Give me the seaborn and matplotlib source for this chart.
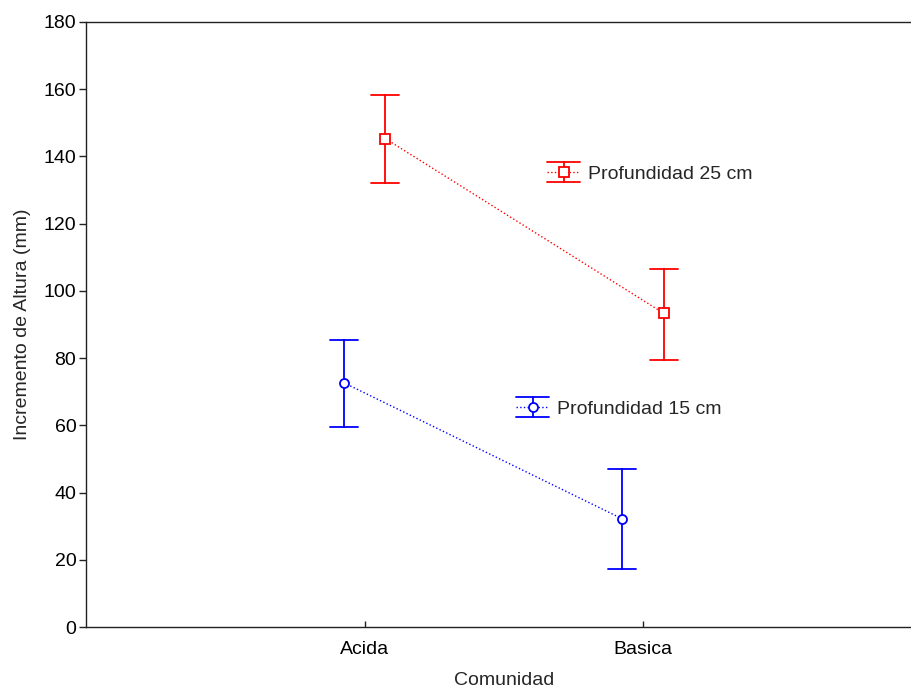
import numpy as np
import pandas as pd
import matplotlib
matplotlib.use("Agg")
import matplotlib.pyplot as plt
import seaborn as sns
from matplotlib.lines import Line2D
from matplotlib.legend_handler import HandlerBase

# ---- data ----
comunidades = ["Acida", "Basica"]
profundidades = ["Profundidad 15 cm", "Profundidad 25 cm"]
media_15 = [72.7, 32.2]
inf_15 = [59.6, 17.3]
sup_15 = [85.4, 47.1]
media_25 = [145.3, 93.3]
inf_25 = [132.2, 79.4]
sup_25 = [158.3, 106.4]
colores = ["#0000FF", "#FF0000"]
marcadores = ["o", "s"]
yticks = list(range(0, 181, 20))

rows = []
for prof, med, lo, hi in [(profundidades[0], media_15, inf_15, sup_15),
                          (profundidades[1], media_25, inf_25, sup_25)]:
    for com, m, l, h in zip(comunidades, med, lo, hi):
        for v in (l, m, h):
            rows.append({"Comunidad": com, "Profundidad": prof, "Incremento": v})
df = pd.DataFrame(rows)

sns.set_theme(style="ticks")
plt.rcParams["font.family"] = ["Liberation Sans", "DejaVu Sans"]
FS = 14

fig = plt.figure(figsize=(9.11, 6.89), dpi=100)
ax = fig.add_axes([86 / 911, 1 - 627 / 689, 835.5 / 911, 605 / 689])

sns.pointplot(data=df, x="Comunidad", y="Incremento", hue="Profundidad",
              order=comunidades, hue_order=profundidades, palette=colores,
              estimator="median", errorbar=lambda v: (v.min(), v.max()),
              markers=marcadores, linestyles=[":", ":"], dodge=0.15,
              capsize=0.1, err_kws={"linewidth": 1.3},
              linewidth=1.0, markersize=6.5, markerfacecolor="white",
              markeredgewidth=1.3, legend=False, ax=ax)

for ln in ax.lines:
    if ln.get_marker() not in (None, "None", "", " "):
        ln.set_zorder(4)

ax.set_xlim(-1, 2)
ax.set_ylim(0, 180)
ax.set_yticks(yticks)
ax.spines["right"].set_visible(False)
for s in ("left", "bottom", "top"):
    ax.spines[s].set_color("#222222")
    ax.spines[s].set_linewidth(1.0)
ax.tick_params(axis="y", direction="out", length=5, width=1, labelsize=FS, pad=2, colors="#222222", labelcolor="black")
ax.tick_params(axis="x", direction="in", length=4, width=1, labelsize=FS, pad=10, colors="#222222", labelcolor="black")
ax.set_xlabel("Comunidad", fontsize=FS, labelpad=10)
ax.set_ylabel("Incremento de Altura (mm)", fontsize=FS, labelpad=9)


class ErrHandler(HandlerBase):
    def create_artists(self, legend, orig_handle, xdescent, ydescent, width,
                       height, fontsize, trans):
        c = orig_handle.get_color()
        m = orig_handle.get_marker()
        cy = height / 2 - ydescent
        x0, x1 = -xdescent, -xdescent + width
        xc = (x0 + x1) / 2
        h = 0.49 * fontsize
        arts = [
            Line2D([x0, x1], [cy, cy], color=c, linestyle=":", linewidth=1.0),
            Line2D([xc, xc], [cy - h, cy + h], color=c, linewidth=1.3),
            Line2D([x0, x1], [cy + h, cy + h], color=c, linewidth=1.3),
            Line2D([x0, x1], [cy - h, cy - h], color=c, linewidth=1.3),
            Line2D([xc], [cy], color=c, marker=m, markersize=6.5,
                   markerfacecolor="white", markeredgewidth=1.3, linestyle="none"),
        ]
        for a in arts:
            a.set_transform(trans)
        return arts


handles = [Line2D([], [], color=c, marker=mk, linestyle=":")
           for c, mk in zip(colores, marcadores)]
anchors = [(516 / 911, 1 - 409 / 689), (547 / 911, 1 - 174 / 689)]
legs = []
for h, lab, anc in zip(handles, profundidades, anchors):
    lg = fig.legend([h], [lab], loc="center left", bbox_to_anchor=anc,
                    bbox_transform=fig.transFigure, frameon=False,
                    fontsize=FS, handlelength=1.7, handletextpad=0.42,
                    borderpad=0, borderaxespad=0,
                    handler_map={Line2D: ErrHandler()})
    legs.append(lg)

fig.savefig("out.png", dpi=100)
